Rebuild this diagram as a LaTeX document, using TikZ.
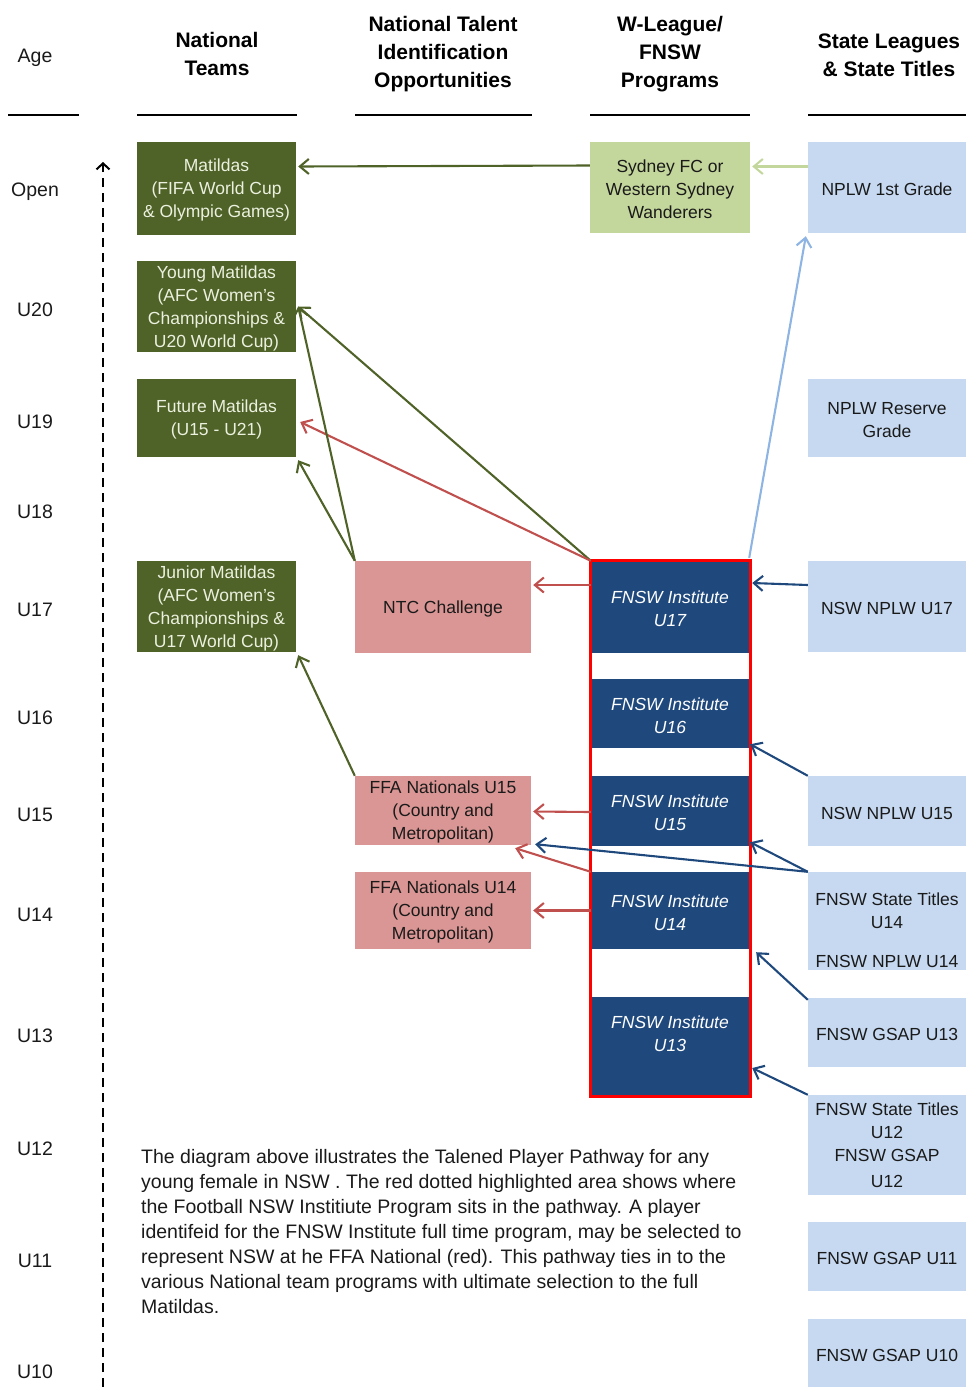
\documentclass[tikz,border=0pt]{standalone}
\usepackage{fontspec}
\setmainfont{Liberation Sans}
\usetikzlibrary{arrows.meta}
\definecolor{ngreen}{HTML}{4F6228}
\definecolor{ngtext}{HTML}{EBF1DE}
\definecolor{lgreen}{HTML}{C3D69B}
\definecolor{pinkbox}{HTML}{D99694}
\definecolor{redarr}{HTML}{C0504D}
\definecolor{dblue}{HTML}{1F497D}
\definecolor{lblue}{HTML}{C6D9F1}
\definecolor{lbarr}{HTML}{8DB4E2}
\definecolor{txt}{HTML}{1A1A1A}
\newcommand\boxfont{\fontsize{17.5}{23}\selectfont}
\newcommand\hdfont{\fontsize{21}{28}\selectfont\bfseries}
\newcommand\agefont{\fontsize{19.5}{24}\selectfont}
\newcommand\topstrut{\rule{0pt}{16.5pt}}
\begin{document}
\begin{tikzpicture}[x=1pt,y=-1pt,
  box/.style={inner sep=0pt, align=center, font=\boxfont, text=txt},
  gbox/.style={box, fill=ngreen, text=ngtext, minimum width=159pt},
  pbox/.style={box, fill=pinkbox, minimum width=176pt},
  ibox/.style={box, fill=dblue, text=white, minimum width=158pt, font=\boxfont\itshape},
  sbox/.style={box, fill=lblue, minimum width=158pt},
  hd/.style={inner sep=0pt, align=center, font=\hdfont},
  age/.style={inner sep=0pt, font=\agefont, text=txt, yshift=-2.5pt},
  arr/.style={line width=2.1pt, -{Straight Barb[length=9pt,width=15pt]}},
  hline/.style={line width=2.5pt, black}
]
\useasboundingbox (0,0) rectangle (966,1387);

% headers
\node[age] (hage) at (35,55) {Age};
\node[hd] (h1) at (217,54) {National\\Teams};
\node[hd] (h2) at (443,54) {National Talent\\Identification\\Opportunities};
\node[hd] (h3) at (670,54) {W-League/\\FNSW\\Programs};
\node[hd] (h4) at (889,55) {State Leagues\\\& State Titles};
\draw[hline] (8,115) -- (79,115);
\draw[hline] (137,115) -- (297,115);
\draw[hline] (355,115) -- (532,115);
\draw[hline] (590,115) -- (750,115);
\draw[hline] (808,115) -- (966,115);

% age labels
\node[age] (aopen) at (35,189) {Open};
\node[age] (a20) at (35,307) {U20};
\node[age] (a19) at (35,419) {U19};
\node[age] (a18) at (35,509) {U18};
\node[age] (a17) at (35,607) {U17};
\node[age] (a16) at (35,715) {U16};
\node[age] (a15) at (35,812) {U15};
\node[age] (a14) at (35,912) {U14};
\node[age] (a13) at (35,1033) {U13};
\node[age] (a12) at (35,1146) {U12};
\node[age] (a11) at (35,1258) {U11};
\node[age] (a10) at (35,1369) {U10};
\coordinate (axb) at (103,1387);
\coordinate (axt) at (103,162);
\draw[line width=2pt, dash pattern=on 9pt off 6pt, -{Straight Barb[length=6pt,width=13pt]}] (axb) -- (axt);

% national teams
\node[gbox, minimum height=93pt] (mat) at (216.5,188.5) {\topstrut Matildas\\(FIFA World Cup\\\& Olympic Games)};
\node[gbox, minimum height=91pt] (ym) at (216.5,306.5) {\topstrut Young Matildas\\(AFC Women's\\Championships \&\\U20 World Cup)};
\node[gbox, minimum height=78pt] (fm) at (216.5,418) {\topstrut Future Matildas\\(U15 - U21)};
\node[gbox, minimum height=91pt] (jm) at (216.5,606.5) {\topstrut Junior Matildas\\(AFC Women's\\Championships \&\\U17 World Cup)};

% talent identification
\node[pbox, minimum height=92pt] (ntc) at (443,607) {\topstrut NTC Challenge};
\node[pbox, minimum height=69pt] (ffa15) at (443,810.5) {\topstrut FFA Nationals U15\\(Country and\\Metropolitan)};
\node[pbox, minimum height=77pt] (ffa14) at (443,910.5) {\topstrut FFA Nationals U14\\(Country and\\Metropolitan)};

% W-League / FNSW
\node[box, fill=lgreen, minimum width=160pt, minimum height=91pt] (syd) at (670,187.5) {\topstrut Sydney FC or\\Western Sydney\\Wanderers};
\node[ibox, minimum height=92pt] (i17) at (670,607) {\topstrut FNSW Institute\\U17};
\node[ibox, minimum height=69pt] (i16) at (670,713.5) {\topstrut FNSW Institute\\U16};
\node[ibox, minimum height=70pt] (i15) at (670,811) {\topstrut FNSW Institute\\U15};
\node[ibox, minimum height=77pt] (i14) at (670,910.5) {\topstrut FNSW Institute\\U14};
\node[ibox, minimum height=98pt] (i13) at (670,1046) {};
\node[box, text=white, font=\boxfont\itshape] (i13t) at (670,1034) {FNSW Institute\\U13};
\coordinate (olnw) at (590,560);
\coordinate (olse) at (750,1096);
\draw[red, line width=3pt] (olnw) rectangle (olse);

% state leagues
\node[sbox, minimum height=91pt] (s1) at (887,187.5) {\topstrut NPLW 1st Grade};
\node[sbox, minimum height=78pt] (s2) at (887,418) {\topstrut NPLW Reserve\\Grade};
\node[sbox, minimum height=91pt] (s17) at (887,606.5) {\topstrut NSW NPLW U17};
\node[sbox, minimum height=70pt] (s15) at (887,811) {\topstrut NSW NPLW U15};
\node[sbox, minimum height=98pt] (s14) at (887,921) {};
\node[box] (s14t) at (887,930) {FNSW State Titles\\U14\\[16pt]FNSW NPLW U14};
\node[sbox, minimum height=69pt] (s13) at (887,1032.5) {\topstrut FNSW GSAP U13};
\node[sbox, minimum height=100pt] (s12) at (887,1145) {FNSW State Titles\\U12\\FNSW GSAP\\[3pt]U12};
\node[sbox, minimum height=69pt] (s11) at (887,1256.5) {\topstrut FNSW GSAP U11};
\node[sbox, minimum height=68pt] (s10) at (887,1353) {\topstrut FNSW GSAP U10};

% arrows
\draw[arr, ngreen] ([yshift=22pt]syd.west) -- ([yshift=22pt,xshift=2pt]mat.east);
\draw[arr, lgreen] ([yshift=21pt]s1.west) -- ([yshift=21pt,xshift=2pt]syd.east);
\draw[arr, lbarr] ([yshift=3pt]i17.north east) -- ([xshift=-2pt,yshift=-3pt]s1.south west);
\draw[arr, ngreen] (i17.north west) -- ([xshift=2pt]ym.east);
\draw[arr, redarr] (i17.north west) -- ([xshift=4pt,yshift=-4pt]fm.east);
\draw[arr, ngreen] (ntc.north west) -- ([xshift=2pt]ym.east);
\draw[arr, ngreen] (ntc.north west) -- ([xshift=2pt,yshift=-3pt]fm.south east);
\draw[arr, redarr] ([yshift=22pt]i17.west) -- ([yshift=22pt,xshift=2pt]ntc.east);
\draw[arr, dblue] ([yshift=21.5pt]s17.west) -- ([yshift=24pt,xshift=3pt]i17.east);
\draw[arr, dblue] (s15.north west) -- ([yshift=4pt,xshift=1pt]i16.south east);
\draw[arr, ngreen] (ffa15.north west) -- ([xshift=2pt,yshift=-3pt]jm.south east);
\draw[arr, redarr] ([yshift=-1pt]i15.west) -- ([yshift=-1pt,xshift=2pt]ffa15.east);
\draw[arr, dblue] (s14.north west) -- ([yshift=4pt,xshift=1pt]i15.south east);
\draw[arr, dblue] (s14.north west) -- ([xshift=4pt,yshift=1pt]ffa15.south east);
\draw[arr, redarr] (i14.north west) -- ([xshift=-16pt,yshift=-3pt]ffa15.south east);
\draw[arr, redarr] (i14.west) -- ([xshift=2pt]ffa14.east);
\draw[arr, dblue] ([yshift=-2pt]s13.north west) -- ([xshift=7pt,yshift=-3pt]i14.south east);
\draw[arr, dblue] (s12.north west) -- ([xshift=3pt,yshift=-22pt]i13.east);

% description
\node[inner sep=0pt, anchor=north west, align=left, font=\fontsize{19.5}{25}\selectfont, text=txt] (desc) at (141,1149)
{The diagram above illustrates the Talened Player Pathway for any\\
young female in NSW . The red dotted highlighted area shows where\\
the Football NSW Institiute Program sits in the pathway. A player\\
identifeid for the FNSW Institute full time program, may be selected to\\
represent NSW at he FFA National (red). This pathway ties in to the\\
various National team programs with ultimate selection to the full\\
Matildas.};
\end{tikzpicture}
\end{document}
